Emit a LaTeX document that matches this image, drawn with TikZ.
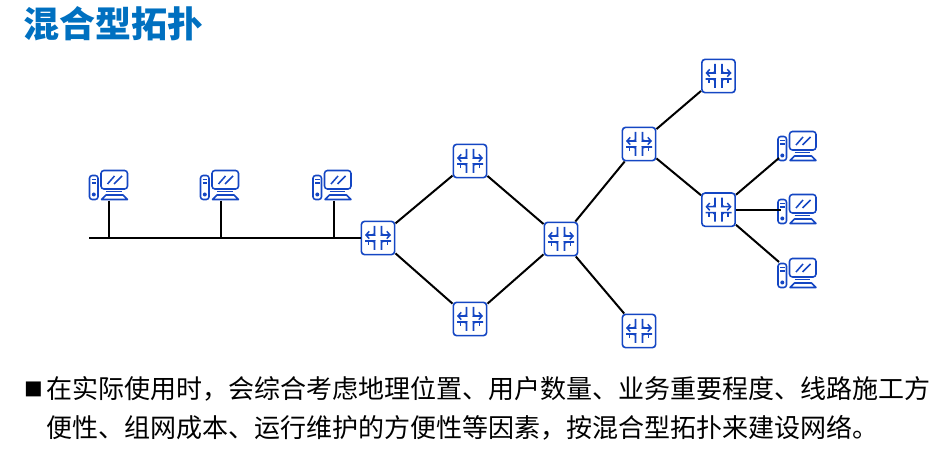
\documentclass[tikz,border=0pt]{standalone}
\usepackage{fontspec}
\usetikzlibrary{arrows.meta}
\setmainfont{Noto Sans CJK SC}
\definecolor{titleblue}{RGB}{0,112,192}
\definecolor{iconblue} {RGB}{20,70,195}
\newcommand{\routerglyph}{%
  \begin{scope}[shift={(path picture bounding box.center)},iconblue,line width=1.15pt,>={Straight Barb[length=2.4pt,width=5.5pt]}]
    \draw[->] (-3.5,-12) -- (-3.5,-7) .. controls (-3.5,-4.5) and (-5,-3) .. (-7,-3) -- (-13,-3);
    \draw[->] (3.5,-12) -- (3.5,-7) .. controls (3.5,-4.5) and (5,-3) .. (7,-3) -- (13,-3);
    \draw (-3.5,12) -- (-3.5,7) .. controls (-3.5,4.5) and (-5,3) .. (-7,3) -- (-13,3);
    \draw (3.5,12) -- (3.5,7) .. controls (3.5,4.5) and (5,3) .. (7,3) -- (13,3);
    \draw (-9.5,3) -- (-9.5,7.5) (9.5,3) -- (9.5,7.5);
  \end{scope}}
\newcommand{\pcglyph}{%
  \begin{scope}[shift={(path picture bounding box.center)},iconblue,line width=1.15pt]
    \draw[rounded corners=2pt] (-19,-9.5) rectangle (-10.5,14.5);
    \draw (-17,-5.5) -- (-12.5,-5.5) (-17,-2) -- (-12.5,-2);
    \fill (-14.7,9.5) circle (2);
    \draw[rounded corners=2.2pt] (-7.5,-14.5) rectangle (19,4);
    \draw (-1,-1) -- (6,-9) (5.5,-1) -- (13.5,-9);
    \draw (-2.5,6.5) -- (13,6.5);
    \draw[line join=round] (-7,14.5) -- (19,14.5) -- (14.5,10) -- (-2.5,10) -- cycle;
  \end{scope}}
\begin{document}
\begin{tikzpicture}[
    x=0.75pt,y=-0.75pt,
    router/.style={rectangle,rounded corners=2.5pt,draw=iconblue,line width=1.2pt,
                   minimum size=25pt,inner sep=0pt,path picture={\routerglyph}},
    pc/.style={rectangle,minimum width=30pt,minimum height=23pt,inner sep=0pt,path picture={\pcglyph}},
    link/.style={line width=1.5pt,black},
    title/.style={font=\bfseries\fontsize{27}{30}\selectfont,text=titleblue,anchor=west,inner sep=0pt},
    body/.style={font=\fontsize{19.5}{29.25}\selectfont,inner sep=0pt,align=left}
  ]
    \useasboundingbox (0,0) rectangle (936,452);
    \node[title] (head) at (23,23.5) {混合型拓扑};
    \node[router] (r1) at (378,238) {};
    \node[router] (r2) at (470,161) {};
    \node[router] (r3) at (470,319) {};
    \node[router] (r4) at (561,239) {};
    \node[router] (r5) at (639,144) {};
    \node[router] (r6) at (718.5,209.7) {};
    \node[router] (r7) at (718.5,76)  {};
    \node[router] (r8) at (639,331) {};
    \node[pc] (pc1) at (108.5,185) {};
    \node[pc] (pc2) at (219.5,185) {};
    \node[pc] (pc3) at (332,185)   {};
    \node[pc] (pc4) at (797,146)   {};
    \node[pc] (pc5) at (797,209)   {};
    \node[pc] (pc6) at (797,273)   {};
    \coordinate (busend) at (89,238);
    \coordinate (pc4in) at (779,158);
    \coordinate (pc5in) at (781,209.7);
    \coordinate (pc6in) at (779,262);
    \draw[link] (busend) -- (r1);
    \foreach \p/\d in {pc1/0.4,pc2/1.1,pc3/1.5}
      \draw[link] ([xshift=\d pt]\p.south) -- ([xshift=\d pt]\p.south |- busend);
    \draw[link] (r1) -- (r2);
    \draw[link] (r1) -- (r3);
    \draw[link] (r2) -- (r4);
    \draw[link] (r3) -- (r4);
    \draw[link] (r4) -- (r5);
    \draw[link] (r4) -- (r8);
    \draw[link] (r5) -- (r6);
    \draw[link] (r5) -- (r7);
    \draw[link] (r6) -- (pc4in);
    \draw[link] (r6) -- (pc5in);
    \draw[link] (r6) -- (pc6in);
    \node[body,font=\fontsize{14}{16}\selectfont] (mark) at (34,389.5) {■};
    \node[body,anchor=north west] (para) at (46,376.5) {在实际使用时，会综合考虑地理位置、用户数量、业务重要程度、线路施工方\\便性、组网成本、运行维护的方便性等因素，按混合型拓扑来建设网络。};
\end{tikzpicture}
\end{document}
